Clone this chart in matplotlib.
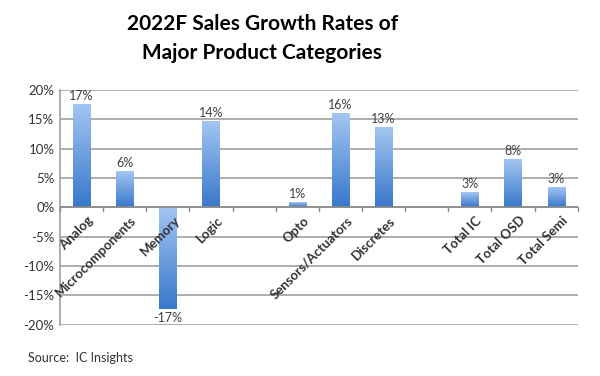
import numpy as np
import matplotlib
matplotlib.use("Agg")
import matplotlib.pyplot as plt
from matplotlib.colors import LinearSegmentedColormap

plt.rcParams['font.family'] = ['Lato', 'DejaVu Sans']

# data (growth rate, %)
categories = ["Analog", "Microcomponents", "Memory", "Logic", "",
              "Opto", "Sensors/Actuators", "Discretes", "",
              "Total IC", "Total OSD", "Total Semi"]
growth = [17.4, 6.1, -17.3, 14.6, None, 0.7, 16.0, 13.6, None, 2.5, 8.1, 3.4]
value_labels = ["17%", "6%", "-17%", "14%", "", "1%", "16%", "13%", "",
                "3%", "8%", "3%"]
y_ticks = [20, 15, 10, 5, 0, -5, -10, -15, -20]

fig = plt.figure(figsize=(6, 3.76), dpi=100)
ax = fig.add_axes([0.1, 0.136, 0.863, 0.625])

x = np.arange(len(categories))
heights = [v if v is not None else 0 for v in growth]
bars = ax.bar(x, heights, width=0.4, color="none", zorder=3)

# light-to-dark blue gradient, top to bottom, inside each bar
cmap = LinearSegmentedColormap.from_list("bluegrad", ["#a3c5f2", "#3878cb"])
grad = np.linspace(0, 1, 100).reshape(-1, 1)
for b, v in zip(bars, growth):
    if v is None:
        continue
    x0 = b.get_x()
    x1 = x0 + b.get_width()
    y0 = min(0, v)
    y1 = max(0, v)
    ax.imshow(grad, extent=[x0, x1, y0, y1], aspect="auto", cmap=cmap,
              origin="upper", zorder=3)

ax.set_xlim(-0.5, len(categories) - 0.5)
ax.set_ylim(-20, 20)

# value labels
for xi, v, lab in zip(x, growth, value_labels):
    if v is None:
        continue
    if v >= 0:
        ax.annotate(lab, (xi, v), xytext=(0, 2), textcoords="offset points",
                    ha="center", va="bottom", fontsize=9, color="#404040")
    else:
        ax.annotate(lab, (xi, v), xytext=(0, -2), textcoords="offset points",
                    ha="center", va="top", fontsize=9, color="#404040")

# y axis
ax.set_yticks(y_ticks)
ax.set_yticklabels([f"{t}%" for t in y_ticks], fontsize=9.5, color="#333333")
ax.yaxis.grid(True, color="#a0a0a0", linewidth=1.2, zorder=0)
ax.set_axisbelow(True)
ax.tick_params(axis="y", length=0, pad=4)

for s in ["top", "right", "bottom"]:
    ax.spines[s].set_visible(False)
ax.spines["left"].set_color("#a0a0a0")
ax.spines["left"].set_linewidth(1.2)

# zero line with boundary tick marks
ax.axhline(0, color="#8c8c8c", linewidth=1.2, zorder=4)
ax.set_xticks([])
for b in np.arange(-0.5, len(categories), 1.0):
    ax.plot([b, b], [0, -0.6], color="#8c8c8c", linewidth=1.0, zorder=4,
            clip_on=False)

# category labels, rotated, ending just under each bar
for xi, name in zip(x, categories):
    if not name:
        continue
    ax.annotate(name, (xi, 0), xytext=(4, -5), textcoords="offset points",
                ha="right", va="top", rotation=45, rotation_mode="anchor",
                fontsize=9.5, fontweight="bold", color="#333333", zorder=5)

fig.text(0.437, 0.935, "2022F Sales Growth Rates of", ha="center",
         va="center", fontsize=15, fontweight="bold", color="black")
fig.text(0.437, 0.86, "Major Product Categories", ha="center", va="center",
         fontsize=15, fontweight="bold", color="black")
fig.text(0.047, 0.048, "Source:  IC Insights", ha="left", va="center",
         fontsize=9, color="#333333")

fig.savefig("out.png", dpi=100)
